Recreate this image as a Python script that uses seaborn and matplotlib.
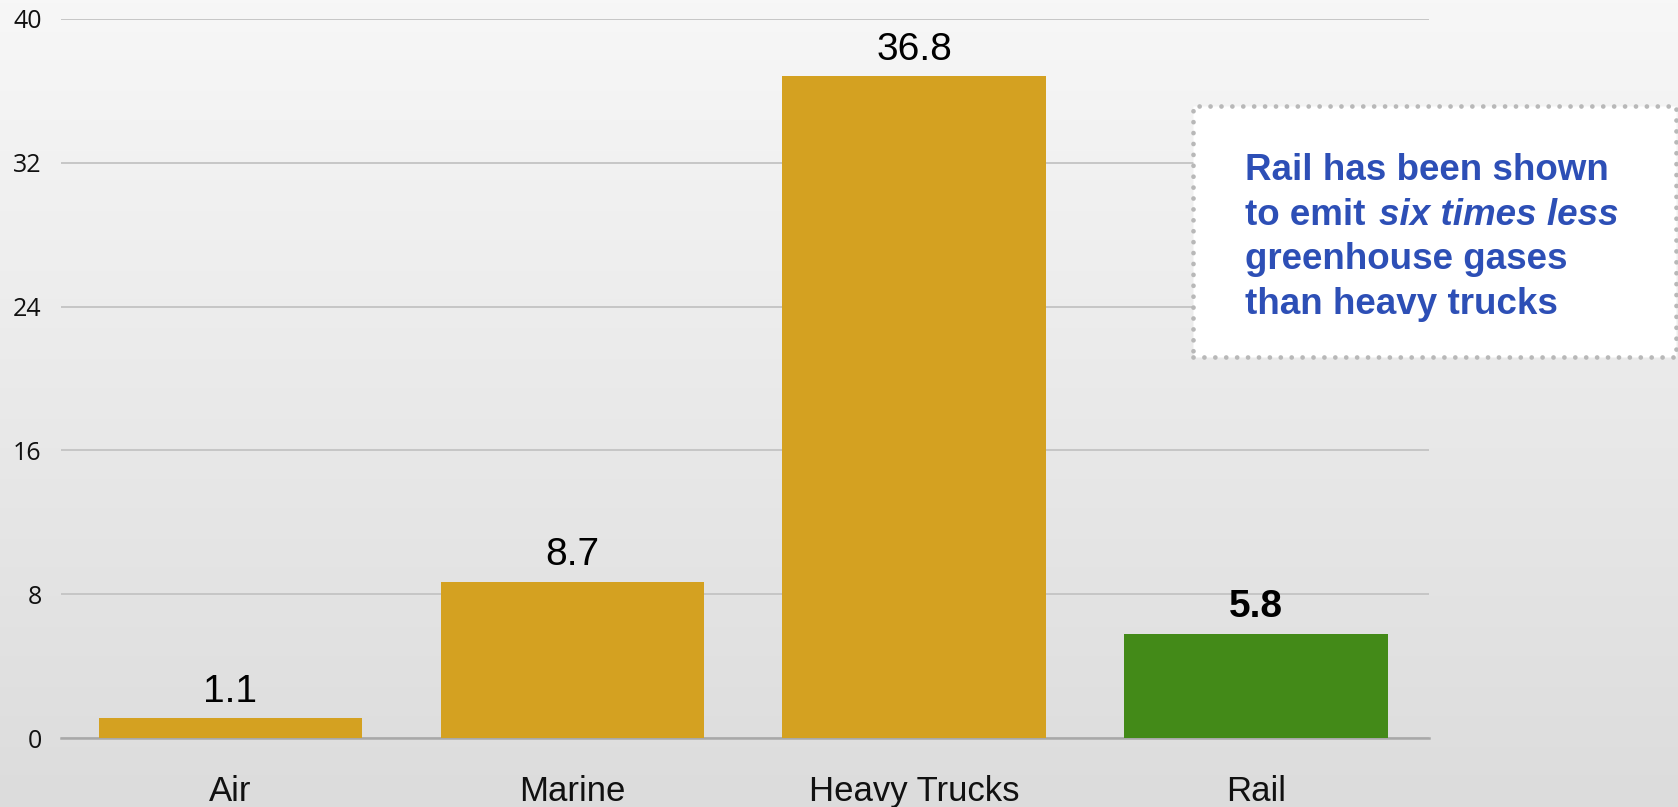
import numpy as np
import pandas as pd
import matplotlib.pyplot as plt
import seaborn as sns
from matplotlib.patches import Rectangle

# chart data
modes = ['Air', 'Marine', 'Heavy Trucks', 'Rail']
emissions = [1.1, 8.7, 36.8, 5.8]
bar_colors = ['#D4A121', '#D4A121', '#D4A121', '#438A18']
y_ticks = [0, 8, 16, 24, 32, 40]

df = pd.DataFrame({'mode': modes, 'value': emissions})

sns.set_style('white')
fig = plt.figure(figsize=(16.78, 8.07), dpi=100)

# soft vertical gradient background
bg = fig.add_axes([0, 0, 1, 1], zorder=-10)
grad = np.linspace(0, 1, 256).reshape(-1, 1)
bg.imshow(grad, aspect='auto', cmap=sns.blend_palette(['#f7f7f7', '#dcdcdc'], as_cmap=True),
          extent=[0, 1, 0, 1], origin='upper')
bg.axis('off')

ax = fig.add_axes([0.0364, 0.0855, 0.815, 0.891])
ax.patch.set_alpha(0)

sns.barplot(data=df, x='mode', y='value', hue='mode', palette=bar_colors,
            width=0.77, saturation=1, legend=False, ax=ax, zorder=3, linewidth=0)

# value labels on top of bars
for i, cont in enumerate(ax.containers):
    weight = 'bold' if modes[i] == 'Rail' else 'normal'
    ax.bar_label(cont, fmt='%.1f', padding=6, fontsize=28,
                 family='Liberation Sans', fontweight=weight, color='black')

ax.set_ylim(0, 40)
ax.set_xlim(-0.495, 3.505)
ax.set_yticks(y_ticks)
ax.yaxis.grid(True, color='#c3c3c3', linewidth=1.3, zorder=0)
ax.set_axisbelow(True)
for side in ['top', 'right', 'left']:
    ax.spines[side].set_visible(False)
ax.spines['bottom'].set_color('#a8a8a8')
ax.spines['bottom'].set_linewidth(1.8)
ax.set_xlabel('')
ax.set_ylabel('')
ax.tick_params(axis='y', length=0, pad=14, labelsize=18, labelcolor='#111111')
ax.tick_params(axis='x', length=0, pad=26.5, labelsize=25, labelcolor='#111111')
for lab in ax.get_yticklabels():
    lab.set_family('Open Sans')
for lab in ax.get_xticklabels():
    lab.set_family('Liberation Sans')

# callout box
box = Rectangle((0.711, 0.5576), 0.2878, 0.311, transform=fig.transFigure,
                facecolor='white', edgecolor='#b8b8b8', linewidth=3.4,
                linestyle=(0, (0.01, 2.3)), capstyle='round', zorder=5, clip_on=False)
fig.patches.append(box)

blue = '#2D4FB6'
tx = 0.742
kw = dict(fontsize=26.5, fontweight='bold', color=blue, family='Liberation Sans',
          va='baseline', ha='left', zorder=6)
fig.text(tx, 0.7774, 'Rail has been shown', **kw)
t2 = fig.text(tx, 0.7217, 'to emit ', **kw)
fig.canvas.draw()
bb = t2.get_window_extent()
fig.text(bb.x1 / fig.bbox.width + 0.002, 0.7217, 'six times less', style='italic', **kw)
fig.text(tx, 0.6671, 'greenhouse gases', **kw)
fig.text(tx, 0.6114, 'than heavy trucks', **kw)

fig.savefig('out.png', dpi=100)
